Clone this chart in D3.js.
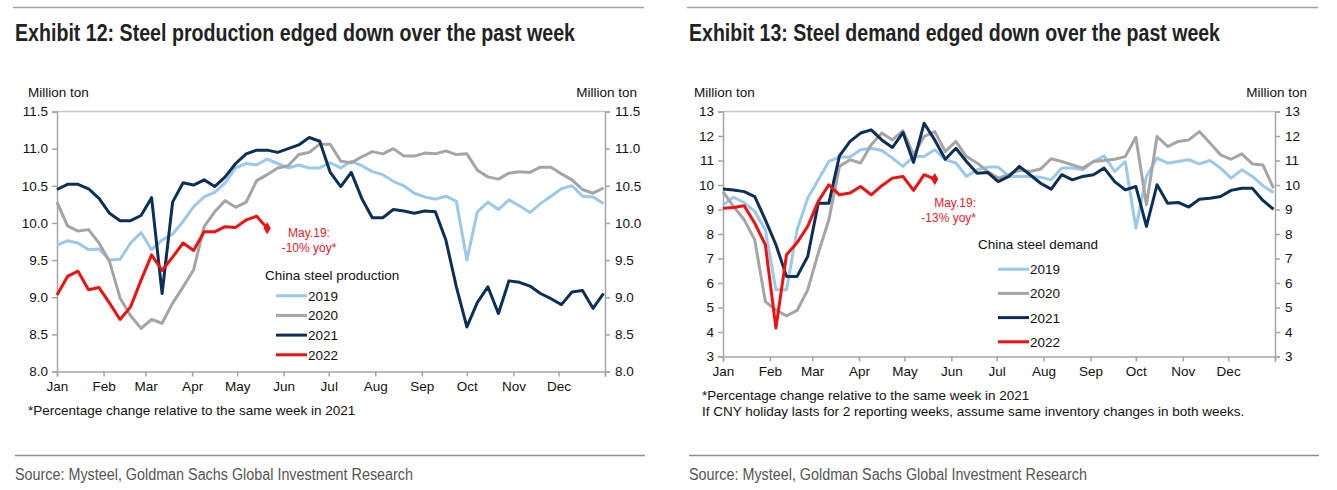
<!DOCTYPE html>
<html>
<head>
<meta charset="utf-8">
<script src="https://cdn.jsdelivr.net/npm/d3@7"></script>
<style>
  body { margin: 0; background: #fff; }
  text { font-family: "Liberation Sans", Arial, sans-serif; }
</style>
</head>
<body>
<div id="chart"></div>
<script>
const W = 1337, H = 490;

const months = ['Jan','Feb','Mar','Apr','May','Jun','Jul','Aug','Sep','Oct','Nov','Dec'];
const monthStarts = [0,31,59,90,120,151,181,212,243,273,304,334,365];
const years = ['2019','2020','2021','2022'];
const colors = ['#9cc8ec', '#a5a5a5', '#0c2f57', '#ee1111'];

// weekly steel production, million ton
const prod2019 = [9.70,9.76,9.73,9.64,9.65,9.50,9.51,9.73,9.87,9.64,9.77,9.85,10.02,10.22,10.35,10.41,10.54,10.74,10.80,10.78,10.86,10.80,10.74,10.78,10.74,10.74,
  10.81,10.74,10.83,10.77,10.69,10.65,10.56,10.50,10.40,10.35,10.32,10.36,10.29,9.50,10.15,10.28,10.18,10.31,10.23,10.14,10.26,10.36,10.46,10.50,10.36,10.35,10.26];
const prod2020 = [10.28,9.96,9.89,9.91,9.73,9.48,8.99,8.75,8.58,8.70,8.65,8.92,9.14,9.37,9.95,10.15,10.30,10.21,10.28,10.57,10.65,10.74,10.77,10.92,10.95,11.06,11.06,
  10.83,10.81,10.89,10.96,10.93,11.00,10.90,10.90,10.94,10.93,10.97,10.92,10.93,10.71,10.62,10.59,10.67,10.69,10.68,10.75,10.75,10.66,10.58,10.45,10.40,10.47];
const prod2021 = [10.45,10.52,10.52,10.46,10.33,10.13,10.03,10.03,10.10,10.34,9.05,10.28,10.54,10.51,10.58,10.49,10.62,10.80,10.93,10.98,10.98,10.95,11.00,11.05,11.15,11.10,
  10.68,10.49,10.68,10.33,10.07,10.07,10.18,10.16,10.13,10.16,10.15,9.77,9.14,8.60,8.93,9.14,8.78,9.22,9.20,9.15,9.05,8.98,8.90,9.07,9.09,8.85,9.05];
const prod2022 = [9.03,9.28,9.35,9.10,9.13,8.92,8.70,8.87,9.23,9.57,9.36,9.54,9.73,9.63,9.88,9.88,9.95,9.94,10.04,10.09,9.93];

// weekly steel demand, million ton
const dem2019 = [9.19,9.50,9.28,8.92,8.17,5.72,5.72,8.17,9.46,10.21,10.96,11.14,11.14,11.44,11.50,11.41,11.10,10.76,11.16,11.16,11.44,11.03,10.90,10.35,10.62,10.73,10.73,
  10.35,10.35,10.35,10.32,10.21,10.69,10.69,10.62,10.96,11.19,10.55,10.96,8.24,10.35,11.10,10.89,10.96,11.03,10.86,11.00,10.69,10.28,10.62,10.35,9.97,9.69];
const dem2020 = [9.73,9.12,8.58,7.76,5.24,4.90,4.66,4.88,5.72,7.22,8.58,10.76,11.03,10.90,11.64,12.12,11.84,12.22,11.23,11.98,12.18,11.37,11.78,11.16,10.90,10.55,10.28,
  10.42,10.60,10.55,10.65,11.07,10.96,10.82,10.69,10.96,11.00,11.05,11.16,11.95,9.19,11.98,11.57,11.78,11.84,12.18,11.71,11.23,11.05,11.27,10.86,10.82,9.87];
const dem2021 = [9.84,9.80,9.73,9.53,8.58,7.56,6.27,6.27,7.08,9.26,9.26,11.19,11.78,12.12,12.25,11.84,11.53,12.14,10.92,12.52,11.84,11.05,11.50,10.96,10.48,10.51,10.14,
  10.35,10.76,10.42,10.07,9.83,10.42,10.21,10.35,10.42,10.69,10.14,9.80,9.94,8.31,10.01,9.26,9.29,9.10,9.42,9.46,9.53,9.78,9.87,9.87,9.37,9.01];
const dem2022 = [9.05,9.08,9.15,8.44,7.56,4.16,7.15,7.65,8.31,9.33,10.01,9.60,9.67,9.94,9.60,9.97,10.28,10.35,9.78,10.42,10.24];

const prodTicks = [8.0,8.5,9.0,9.5,10.0,10.5,11.0,11.5];
const demTicks = [3,4,5,6,7,8,9,10,11,12,13];

const svg = d3.select("#chart").append("svg")
    .attr("width", W)
    .attr("height", H);

const FS = 13.5;

function drawPanel(cfg) {
    const g = svg.append("g");

    // top rule and title
    g.append("line")
        .attr("x1", cfg.ox).attr("x2", cfg.ox + 631)
        .attr("y1", 7.5).attr("y2", 7.5)
        .attr("stroke", "#a0a0a0").attr("stroke-width", 1.5);
    g.append("text")
        .attr("x", cfg.ox + 2).attr("y", 41)
        .attr("font-family", "'Liberation Sans Narrow', 'DejaVu Sans Condensed', sans-serif")
        .attr("font-weight", "bold")
        .attr("font-size", 23)
        .attr("fill", "#222")
        .attr("textLength", cfg.titleLen)
        .attr("lengthAdjust", "spacingAndGlyphs")
        .text(cfg.title);

    const x = d3.scaleLinear().domain([0, 365]).range([cfg.x0, cfg.x1]);
    const y = d3.scaleLinear().domain(cfg.domain).range([cfg.y1, cfg.y0]);

    // frame top
    g.append("line")
        .attr("x1", cfg.x0).attr("x2", cfg.x1)
        .attr("y1", cfg.y0).attr("y2", cfg.y0)
        .attr("stroke", "#c8c8c8").attr("stroke-width", 1.5);

    const yl = g.append("g")
        .attr("transform", `translate(${cfg.x0},0)`)
        .call(d3.axisLeft(y).tickValues(cfg.ticks).tickSize(5).tickPadding(4).tickFormat(cfg.fmt));
    const yr = g.append("g")
        .attr("transform", `translate(${cfg.x1},0)`)
        .call(d3.axisRight(y).tickValues(cfg.ticks).tickSize(5).tickPadding(5).tickFormat(cfg.fmt));
    const xa = g.append("g")
        .attr("transform", `translate(0,${cfg.y1})`)
        .call(d3.axisBottom(x).tickValues(monthStarts).tickSize(5).tickPadding(5)
            .tickFormat((d, i) => months[i] || ""));

    [yl, yr, xa].forEach(a => {
        a.select(".domain").attr("stroke", "#a6a6a6").attr("stroke-width", 1.5);
        a.selectAll(".tick line").attr("stroke", "#a6a6a6").attr("stroke-width", 1.5);
        a.selectAll(".tick text")
            .attr("font-family", "'Liberation Sans', Arial, sans-serif")
            .attr("font-size", FS).attr("fill", "#111");
    });

    g.append("text").attr("x", cfg.x0 - 29).attr("y", 97)
        .attr("font-size", FS).attr("fill", "#111").text("Million ton");
    g.append("text").attr("x", cfg.x1 + 32).attr("y", 97)
        .attr("text-anchor", "end")
        .attr("font-size", FS).attr("fill", "#111").text("Million ton");

    const line = d3.line()
        .x((d, i) => x(i * 7))
        .y(d => y(d));

    cfg.series.forEach((s, k) => {
        g.append("path")
            .datum(s)
            .attr("fill", "none")
            .attr("stroke", colors[k])
            .attr("stroke-width", 3)
            .attr("stroke-linejoin", "round")
            .attr("d", line);
    });

    // end marker on 2022
    const last = cfg.series[3];
    const li = last.length - 1;
    g.append("path")
        .attr("d", d3.symbol(d3.symbolDiamond, 45))
        .attr("transform", `translate(${x(li * 7)},${y(last[li])})`)
        .attr("fill", colors[3]);

    // annotation
    const ann = g.append("text")
        .attr("text-anchor", cfg.annAnchor)
        .attr("font-size", 12).attr("fill", "#e8202a");
    ann.append("tspan").attr("x", cfg.annX).attr("y", cfg.annY).text("May.19:");
    ann.append("tspan").attr("x", cfg.annX).attr("y", cfg.annY + 15).text(cfg.annText);

    // legend
    g.append("text").attr("x", cfg.legTX).attr("y", cfg.legY)
        .attr("font-size", FS).attr("fill", "#111").text(cfg.legTitle);
    years.forEach((yr, k) => {
        const ly = cfg.legY + cfg.legStep * (k + 1) - 4;
        g.append("line")
            .attr("x1", cfg.legX).attr("x2", cfg.legX + 31)
            .attr("y1", ly).attr("y2", ly)
            .attr("stroke", colors[k]).attr("stroke-width", 3);
        g.append("text").attr("x", cfg.legX + 32).attr("y", ly + 5)
            .attr("font-size", FS).attr("fill", "#111").text(yr);
    });

    // footnotes
    cfg.notes.forEach((t, i) => {
        g.append("text").attr("x", cfg.ox + 15).attr("y", cfg.noteY + i * 16)
            .attr("font-size", 13.5).attr("fill", "#111").text(t);
    });

    // bottom rule and source
    g.append("line")
        .attr("x1", cfg.ox + 2).attr("x2", cfg.ox + 632)
        .attr("y1", 455.5).attr("y2", 455.5)
        .attr("stroke", "#909090").attr("stroke-width", 1.5);
    g.append("text")
        .attr("x", cfg.ox + 2).attr("y", 480)
        .attr("font-family", "'Liberation Sans Narrow', 'DejaVu Sans Condensed', sans-serif")
        .attr("font-size", 16).attr("fill", "#555")
        .attr("textLength", 398)
        .attr("lengthAdjust", "spacingAndGlyphs")
        .text("Source: Mysteel, Goldman Sachs Global Investment Research");
}

drawPanel({
    ox: 13,
    title: "Exhibit 12: Steel production edged down over the past week",
    titleLen: 560,
    x0: 57, x1: 605, y0: 111.5, y1: 371.5,
    domain: [8.0, 11.5], ticks: prodTicks, fmt: d3.format(".1f"),
    series: [prod2019, prod2020, prod2021, prod2022],
    annX: 309, annY: 237, annAnchor: "middle", annText: "-10% yoy*",
    legTitle: "China steel production", legTX: 265, legX: 276, legY: 280, legStep: 19.7,
    notes: ["*Percentage change relative to the same week in 2021"], noteY: 415
});

drawPanel({
    ox: 687,
    title: "Exhibit 13: Steel demand edged down over the past week",
    titleLen: 531,
    x0: 723, x1: 1275, y0: 111.5, y1: 356.5,
    domain: [3, 13], ticks: demTicks, fmt: d3.format("d"),
    series: [dem2019, dem2020, dem2021, dem2022],
    annX: 976, annY: 207, annAnchor: "end", annText: "-13% yoy*",
    legTitle: "China steel demand", legTX: 978, legX: 998, legY: 249, legStep: 24.2,
    notes: ["*Percentage change relative to the same week in 2021",
            "If CNY holiday lasts for 2 reporting weeks, assume same inventory changes in both weeks."],
    noteY: 400
});
</script>
</body>
</html>
